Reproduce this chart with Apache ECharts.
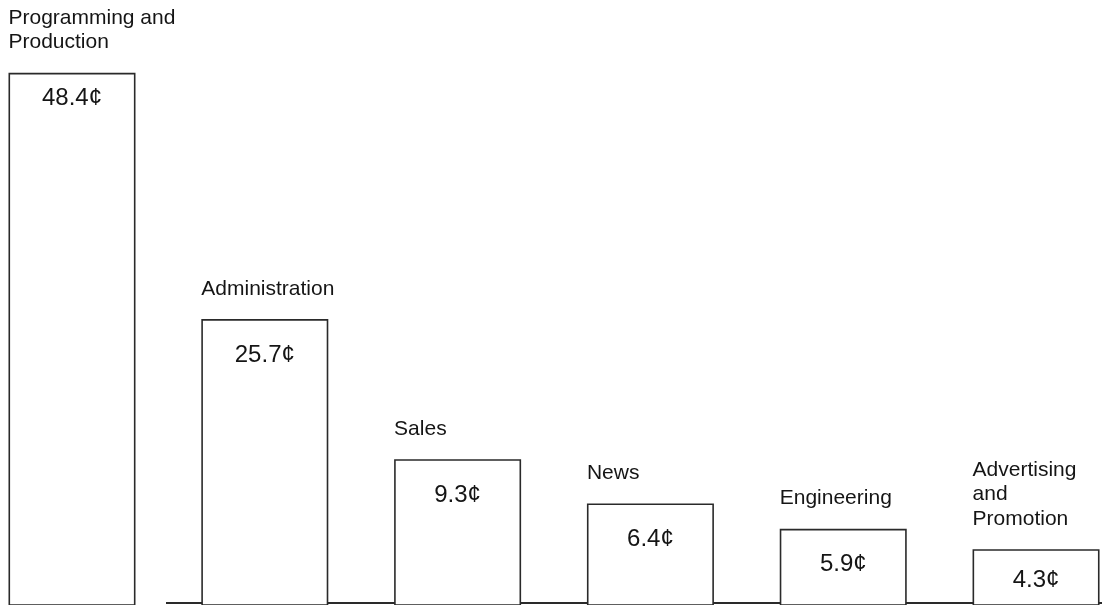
<!DOCTYPE html>
<html>
<head>
<meta charset="utf-8">
<script src="https://cdn.jsdelivr.net/npm/echarts@6/dist/echarts.min.js"></script>
<style>
  html, body { margin: 0; padding: 0; background: #fff; }
  #chart { width: 1107px; height: 605px; }
</style>
</head>
<body>
<div id="chart"></div>
<script>
// Categories (label shown above each bar)
const categories = [
  'Programming and\nProduction',
  'Administration',
  'Sales',
  'News',
  'Engineering',
  'Advertising\nand\nPromotion'
];
// Values printed inside the bars (cents of each dollar)
const values = [48.4, 25.7, 9.3, 6.4, 5.9, 4.3];
// Bar heights as drawn in the picture (the original is not drawn to scale)
const barHeights = [48.4, 26.1, 13.4, 9.4, 7.1, 5.25];

const FONT = '"Liberation Sans", Arial, Helvetica, sans-serif';
const chart = echarts.init(document.getElementById('chart'), null, { renderer: 'canvas' });

const option = {
  backgroundColor: '#ffffff',
  animation: false,
  grid: { left: 0, right: 0, top: 0, bottom: 0, containLabel: false, outerBoundsMode: 'none' },
  xAxis: {
    type: 'value',
    min: -0.3734,
    max: 5.368,
    show: false,
    splitLine: { show: false }
  },
  yAxis: {
    type: 'value',
    min: 0.2,
    max: 55,
    show: false,
    splitLine: { show: false }
  },
  series: [
    {
      type: 'bar',
      barWidth: 127,
      clip: true,
      data: barHeights.map((h, i) => ({
        value: [i, h],
        label: {
          show: true,
          position: [63.5, i === 0 ? 26 : (i === 5 ? 31 : 36)],
          align: 'center',
          verticalAlign: 'middle',
          formatter: () => values[i].toFixed(1) + '\u00a2',
          fontFamily: FONT,
          fontSize: 24,
          color: '#151515'
        }
      })),
      itemStyle: { color: '#ffffff', borderColor: '#2a2a2a', borderWidth: 1.6 },
      silent: true
    },
    {
      type: 'bar',
      barWidth: 127,
      barGap: '-100%',
      clip: true,
      data: barHeights.map((h, i) => [i, h]),
      itemStyle: { color: 'rgba(0,0,0,0)', borderWidth: 0 },
      label: {
        show: true,
        position: [0, -18],
        align: 'left',
        verticalAlign: 'bottom',
        formatter: (p) => categories[p.dataIndex],
        fontFamily: FONT,
        fontSize: 21,
        lineHeight: 24.5,
        color: '#151515'
      },
      silent: true,
      z: 3
    }
  ],
  graphic: [
    {
      type: 'line',
      shape: { x1: 166, y1: 603, x2: 1102, y2: 603 },
      style: { stroke: '#2a2a2a', lineWidth: 2 },
      silent: true
    }
  ]
};
chart.setOption(option);
</script>
</body>
</html>
